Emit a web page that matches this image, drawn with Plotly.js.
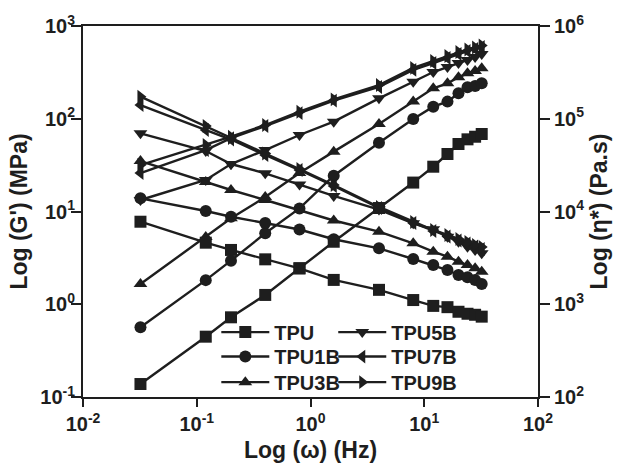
<!DOCTYPE html>
<html>
<head>
<meta charset="utf-8">
<script src="https://cdn.plot.ly/plotly-3.0.1.min.js"></script>
<style>
  html, body { margin: 0; padding: 0; background: #fff; }
  #chart { width: 620px; height: 463px; }
</style>
</head>
<body>
<div id="chart"></div>
<script>
// Angular frequency (Hz)
const freq = [0.032, 0.12, 0.2, 0.4, 0.8, 1.6, 4, 8, 12, 16, 20, 24, 28, 32];

// Storage modulus G' (MPa)
const gTPU   = [0.138, 0.447, 0.723, 1.26, 2.44, 4.72, 10.9, 20.5, 30.4, 41.7, 53.4, 60.0, 64.0, 68.5];
const gTPU1B = [0.564, 1.82, 2.95, 5.82, 10.8, 24.3, 55.2, 99.4, 135, 153, 188, 218, 226, 241];
const gTPU3B = [1.65, 5.31, 8.45, 14.3, 26.0, 44.2, 87.8, 153, 213, 241, 280, 309, 327, 350];
const gTPU5B = [13.3, 21.9, 32.5, 46.0, 66.8, 93.0, 166, 251, 319, 361, 399, 430, 463, 499];
const gTPU7B = [26.0, 46.0, 61.9, 83.5, 115, 157, 220, 336, 399, 452, 499, 537, 565, 594];
const gTPU9B = [31.7, 52.1, 64.0, 85.6, 119, 162, 231, 353, 420, 475, 525, 558, 587, 617];

// Complex viscosity eta* (Pa.s)
const eTPU   = [7760, 4610, 3850, 3050, 2440, 1830, 1430, 1110, 960, 930, 830, 790, 770, 735];
const eTPU1B = [13870, 10120, 8790, 7520, 6400, 5020, 4010, 3075, 2650, 2340, 2066, 1953, 1826, 1652];
const eTPU3B = [35000, 20800, 17060, 13300, 10380, 8000, 6060, 4540, 3690, 3260, 2880, 2650, 2440, 2240];
const eTPU5B = [69700, 44900, 32500, 25800, 19540, 14700, 10500, 7460, 6430, 5350, 4720, 4170, 3840, 3540];
const eTPU7B = [140600, 75700, 59700, 40640, 28000, 18830, 10910, 7520, 6160, 5380, 4870, 4520, 4200, 3940];
const eTPU9B = [173000, 83500, 61900, 42200, 28700, 19300, 11190, 7710, 6320, 5580, 5050, 4690, 4360, 4140];

const names   = ['TPU', 'TPU1B', 'TPU3B', 'TPU5B', 'TPU7B', 'TPU9B'];
const symbols = ['square', 'circle', 'triangle-up', 'triangle-down', 'triangle-left', 'triangle-right'];
const gSeries = [gTPU, gTPU1B, gTPU3B, gTPU5B, gTPU7B, gTPU9B];
const eSeries = [eTPU, eTPU1B, eTPU3B, eTPU5B, eTPU7B, eTPU9B];

const INK = '#1e1e1e';
const FONT = 'Liberation Sans, Arial, Helvetica, sans-serif';

// one legend box per entry: two columns of three rows
const legendIds = ['legend', 'legend2', 'legend3', 'legend4', 'legend5', 'legend6'];
const legendCols = [0.293, 0.293, 0.293, 0.55, 0.55, 0.55];
const legendRows = [0.175, 0.109, 0.040, 0.175, 0.109, 0.040];

const traces = [];
names.forEach((name, i) => {
  const marker = { symbol: symbols[i], size: 12, color: INK, line: { width: 0 } };
  const line = { color: INK, width: 2.4 };
  traces.push({
    x: freq, y: gSeries[i], name: name, type: 'scatter', mode: 'lines+markers',
    xaxis: 'x', yaxis: 'y', legend: legendIds[i], legendgroup: name,
    marker: marker, line: line
  });
  traces.push({
    x: freq, y: eSeries[i], name: name, type: 'scatter', mode: 'lines+markers',
    xaxis: 'x', yaxis: 'y2', showlegend: false, legendgroup: name,
    marker: marker, line: line
  });
});

const tickFont = { family: FONT, size: 20, color: INK, weight: 'bold' };
const titleFont = { family: FONT, size: 23, color: INK, weight: 'bold' };
const legendFont = { family: FONT, size: 20, color: INK, weight: 'bold' };

function pow10Labels(lo, hi) {
  const vals = [], text = [];
  for (let p = lo; p <= hi; p++) {
    vals.push(Math.pow(10, p));
    text.push('10<sup>' + p + '</sup>');
  }
  return { vals, text };
}
const xt = pow10Labels(-2, 2);
const yt = pow10Labels(-1, 3);
const y2t = pow10Labels(2, 6);

const axisCommon = {
  type: 'log', showgrid: false, zeroline: false,
  showline: true, linecolor: INK, linewidth: 2,
  ticks: 'outside', tickcolor: INK, tickwidth: 2,
  tickfont: tickFont, tickmode: 'array'
};

const layout = {
  width: 620, height: 463,
  margin: { l: 83, r: 82, t: 26, b: 66 },
  paper_bgcolor: '#fff', plot_bgcolor: '#fff',
  font: { family: FONT, color: INK },
  xaxis: Object.assign({}, axisCommon, {
    range: [-2, 2], tickvals: xt.vals, ticktext: xt.text, ticklen: 8, mirror: true,
    title: { text: 'Log (\u03c9) (Hz)', font: titleFont, standoff: 21 }
  }),
  yaxis: Object.assign({}, axisCommon, {
    range: [-1, 3], tickvals: yt.vals, ticktext: yt.text, ticklen: 10,
    ticklabelstandoff: -8,
    title: { text: "Log (G') (MPa)", font: titleFont, standoff: 6 }
  }),
  yaxis2: Object.assign({}, axisCommon, {
    range: [2, 6], tickvals: y2t.vals, ticktext: y2t.text, ticklen: 10,
    overlaying: 'y', side: 'right', anchor: 'x',
    title: { text: 'Log (\u03b7*) (Pa.s)', font: titleFont, standoff: 8 }
  }),
  showlegend: true
};

legendIds.forEach((id, i) => {
  layout[id] = {
    x: legendCols[i], y: legendRows[i], xanchor: 'left', yanchor: 'middle',
    bgcolor: 'rgba(0,0,0,0)', borderwidth: 0, font: legendFont,
    itemwidth: 48, tracegroupgap: 0
  };
});

Plotly.newPlot('chart', traces, layout, { staticPlot: true, displayModeBar: false });
</script>
</body>
</html>
